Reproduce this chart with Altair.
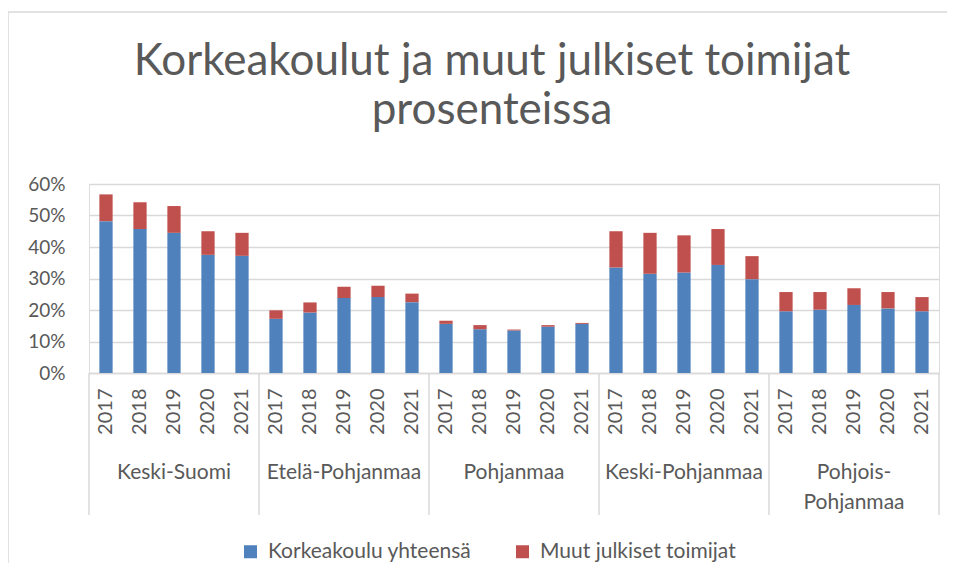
import altair as alt
import pandas as pd

regions = ["Keski-Suomi", "Etelä-Pohjanmaa", "Pohjanmaa", "Keski-Pohjanmaa", "Pohjois-Pohjanmaa"]
region_labels = ["Keski-Suomi", "Etelä-Pohjanmaa", "Pohjanmaa", "Keski-Pohjanmaa", "Pohjois-\nPohjanmaa"]
years = ["2017", "2018", "2019", "2020", "2021"]
series = ["Korkeakoulu yhteensä", "Muut julkiset toimijat"]
colors = ["#4F81BD", "#C0504D"]

# percent values, in region order, years 2017..2021
korkeakoulu = [48.2, 45.7, 44.5, 37.5, 37.2,
               17.2, 19.2, 23.8, 24.1, 22.5,
               15.6, 13.9, 13.5, 14.7, 15.6,
               33.5, 31.5, 31.9, 34.3, 29.8,
               19.6, 20.1, 21.6, 20.5, 19.6]
muut = [8.5, 8.5, 8.5, 7.5, 7.3,
        2.7, 3.2, 3.6, 3.6, 2.7,
        1.0, 1.3, 0.3, 0.5, 0.3,
        11.5, 13.0, 11.8, 11.4, 7.3,
        6.1, 5.6, 5.3, 5.2, 4.5]
y_ticks = [0, 0.1, 0.2, 0.3, 0.4, 0.5, 0.6]

keys = [f"{r}|{y}" for r in regions for y in years]
rows = []
for i, k in enumerate(keys):
    rows.append({"key": k, "series": series[0], "sidx": 0, "value": korkeakoulu[i] / 100})
    rows.append({"key": k, "series": series[1], "sidx": 1, "value": muut[i] / 100})
df = pd.DataFrame(rows)

W, H = 850, 189
GRAY = "#595959"
LINE = "#D9D9D9"
FONT = "Lato"

xscale = alt.Scale(paddingInner=0, paddingOuter=0)

border = alt.Chart(pd.DataFrame({"a": [0]})).mark_rect(
    filled=False, stroke=LINE, strokeWidth=1.5
).encode(
    x=alt.value(-81), x2=alt.value(1000), y=alt.value(-172), y2=alt.value(600)
)

bars = alt.Chart(df).mark_bar(width=alt.RelativeBandSize(0.39)).encode(
    x=alt.X("key:N", sort=keys, scale=xscale, title=None,
            axis=alt.Axis(labelExpr="split(datum.value, '|')[1]", labelAngle=-90,
                          ticks=False, domainColor=LINE, domainWidth=1.5, labelPadding=15,
                          labelFont=FONT, labelFontSize=20, labelColor=GRAY, grid=False)),
    y=alt.Y("value:Q", stack="zero", title=None,
            scale=alt.Scale(domain=[0, 0.6], nice=False),
            axis=alt.Axis(format=".0%", values=y_ticks, domain=False, ticks=False,
                          gridColor=LINE, gridWidth=1.5, labelPadding=24,
                          labelFont=FONT, labelFontSize=19, labelColor=GRAY)),
    color=alt.Color("series:N", scale=alt.Scale(domain=series, range=colors),
                    legend=alt.Legend(orient="none", legendX=151, legendY=357,
                                      direction="horizontal", title=None,
                                      symbolType="square", symbolSize=169,
                                      symbolStrokeWidth=0, labelFont=FONT,
                                      labelFontSize=21, labelColor=GRAY, labelLimit=400,
                                      labelOffset=7, columnPadding=40, padding=0)),
    order=alt.Order("sidx:Q"),
)

sep_df = pd.DataFrame({"key": [f"{r}|{years[0]}" for r in regions]})
seps = alt.Chart(sep_df).mark_rule(color=LINE, strokeWidth=1.5).encode(
    x=alt.X("key:N", sort=keys, bandPosition=0),
    y=alt.value(H), y2=alt.value(H + 142),
)
right_edge = alt.Chart(pd.DataFrame({"a": [0]})).mark_rule(color=LINE, strokeWidth=1.5).encode(
    x=alt.value(W), y=alt.value(H), y2=alt.value(H + 142),
)

lab_df = pd.DataFrame({"key": [f"{r}|{years[2]}" for r in regions], "label": region_labels})
labels = alt.Chart(lab_df).mark_text(
    lineBreak="\n", baseline="top", font=FONT, fontSize=21, color=GRAY, lineHeight=30
).encode(
    x=alt.X("key:N", sort=keys),
    y=alt.value(H + 89),
    text="label:N",
)

chart = alt.layer(border, bars, seps, right_edge, labels).properties(
    width=W, height=H,
    autosize=alt.AutoSizeParams(type="none"),
    padding={"left": 81, "top": 176, "right": 8, "bottom": 190},
    title=alt.TitleParams(["Korkeakoulut ja muut julkiset toimijat", "prosenteissa"],
                          font=FONT, fontSize=44, fontWeight="normal", color=GRAY,
                          anchor="middle", frame="group", dx=-22, dy=170, offset=48,
                          lineHeight=49),
).configure_view(stroke=None).configure(background="white")

chart.save("out.html", embed_options={"renderer": "svg", "actions": False})
